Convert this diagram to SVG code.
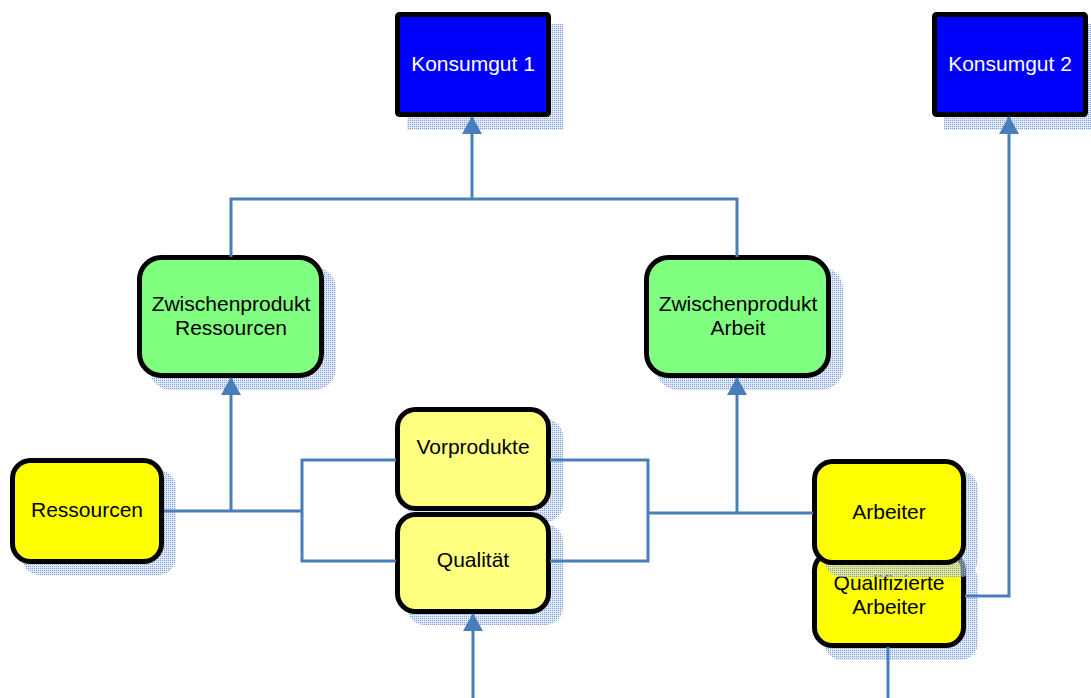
<svg xmlns="http://www.w3.org/2000/svg" width="1091" height="698" viewBox="0 0 1091 698">
<defs>
<pattern id="dots" width="2" height="2" patternUnits="userSpaceOnUse">
<rect width="2" height="2" fill="#c9d7ee" fill-opacity="0.55"/>
<rect width="1" height="1" fill="#7f9fd6"/>
</pattern>
<marker id="arr" viewBox="0 0 18 20" refX="17" refY="10" markerWidth="18" markerHeight="20" markerUnits="userSpaceOnUse" orient="auto">
<path d="M0,0 L18,10 L0,20 Z" fill="#4a7ebb"/>
</marker>
</defs>
<style>
.sh{fill:url(#dots);}
.box{stroke:#000;stroke-width:5;}
.blue{fill:#0000ff;}
.green{fill:#80ff80;}
.yel{fill:#ffff00;}
.lyel{fill:#ffff80;}
text{font-family:"Liberation Sans",Arial,sans-serif;font-size:21px;text-anchor:middle;fill:#000;}
.w{fill:#fff;}
.c{fill:none;stroke:#4a7ebb;stroke-width:3;}
</style>
<g id="konsumgut1">
<rect class="sh" x="407" y="24" width="156" height="106"/>
<rect class="box blue" x="397.5" y="14.5" width="151" height="100" rx="2"/>
<text class="w" x="473" y="71">Konsumgut 1</text>
</g>
<g id="konsumgut2">
<rect class="sh" x="944" y="24" width="147" height="106"/>
<rect class="box blue" x="934.5" y="14.5" width="151" height="100" rx="2"/>
<text class="w" x="1010" y="71">Konsumgut 2</text>
</g>
<g id="zw-ressourcen">
<rect class="sh" x="149" y="267" width="187" height="123" rx="22"/>
<rect class="box green" x="139.5" y="257.5" width="182" height="118" rx="22"/>
<text x="231" y="311">Zwischenprodukt</text>
<text x="231" y="335">Ressourcen</text>
</g>
<g id="zw-arbeit">
<rect class="sh" x="656" y="267" width="187" height="123" rx="22"/>
<rect class="box green" x="646.5" y="257.5" width="182" height="118" rx="22"/>
<text x="738" y="311">Zwischenprodukt</text>
<text x="738" y="335">Arbeit</text>
</g>
<g id="ressourcen">
<rect class="sh" x="22" y="470" width="154" height="105" rx="18"/>
<rect class="box yel" x="12.5" y="460.5" width="149" height="101" rx="18"/>
<text x="87" y="517">Ressourcen</text>
</g>
<g id="vorprodukte">
<rect class="sh" x="407" y="419" width="156" height="103" rx="18"/>
<rect class="box lyel" x="397.5" y="409.5" width="151" height="99" rx="18"/>
<text x="473" y="454">Vorprodukte</text>
</g>
<g id="qualitaet">
<rect class="sh" x="407" y="524" width="156" height="101" rx="18"/>
<rect class="box lyel" x="397.5" y="514.5" width="151" height="97" rx="18"/>
<text x="473" y="567">Qualität</text>
</g>
<g id="qualifizierte-arbeiter">
<rect class="sh" x="824" y="562" width="154" height="98" rx="18"/>
<rect class="box yel" x="814.5" y="552.5" width="149" height="93" rx="18"/>
<text x="889" y="590">Qualifizierte</text>
<text x="889" y="614">Arbeiter</text>
</g>
<g id="arbeiter">
<rect class="sh" x="824" y="471" width="154" height="106" rx="18"/>
<rect class="box yel" x="814.5" y="461.5" width="149" height="101" rx="18"/>
<text x="889" y="519">Arbeiter</text>
</g>
<g id="connectors">
<polyline class="c" points="231,257 231,199 737,199 737,257"/>
<line class="c" x1="472" y1="199" x2="472" y2="117" marker-end="url(#arr)"/>
<polyline class="c" points="164,511 302,511"/>
<polyline class="c" points="396,460 302,460 302,561 396,561"/>
<line class="c" x1="231" y1="511" x2="231" y2="378" marker-end="url(#arr)"/>
<polyline class="c" points="550,460 648,460 648,561 550,561"/>
<polyline class="c" points="648,513 813,513"/>
<line class="c" x1="737" y1="513" x2="737" y2="378" marker-end="url(#arr)"/>
<polyline class="c" points="965,596 1009,596 1009,117" marker-end="url(#arr)"/>
<line class="c" x1="473" y1="698" x2="473" y2="614" marker-end="url(#arr)"/>
<line class="c" x1="888" y1="698" x2="888" y2="647"/>
</g>
</svg>
